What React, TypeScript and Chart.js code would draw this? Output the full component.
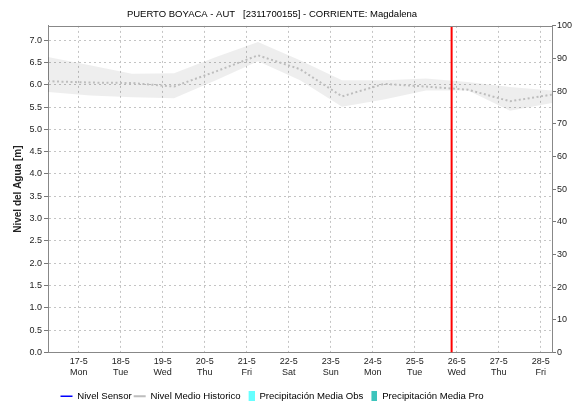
import React, { useEffect, useRef } from 'react';
import { Chart, registerables } from 'chart.js';

Chart.register(...registerables);

const chartTitle = 'PUERTO BOYACA - AUT   [2311700155] - CORRIENTE: Magdalena';
const levelAxisTitle = 'Nivel del Agua [m]';

const dayLabels = ['17-5', '18-5', '19-5', '20-5', '21-5', '22-5', '23-5', '24-5', '25-5', '26-5', '27-5', '28-5'];
const weekdayLabels = ['Mon', 'Tue', 'Wed', 'Thu', 'Fri', 'Sat', 'Sun', 'Mon', 'Tue', 'Wed', 'Thu', 'Fri'];

// sample times, in days from 17-5 00:00
const sampleDays = [-0.73, 0.27, 1.27, 2.27, 3.27, 4.27, 5.27, 6.27, 7.27, 8.27, 9.27, 10.27, 11.27];
const historicMean = [6.08, 6.05, 6.04, 5.96, 6.3, 6.66, 6.35, 5.74, 6.02, 5.96, 5.89, 5.63, 5.78];
const historicUpper = [6.62, 6.44, 6.25, 6.26, 6.62, 6.96, 6.55, 6.1, 6.1, 6.14, 6.06, 5.95, 5.87];
const historicLower = [5.84, 5.76, 5.72, 5.7, 6.1, 6.53, 6.1, 5.51, 5.67, 5.87, 5.87, 5.42, 5.59];

const sensorLevel: { x: number; y: number }[] = [];
const precipObs: { x: number; y: number }[] = [];
const precipPro: { x: number; y: number }[] = [];

const currentDay = 8.88;
const dayMin = -0.73;
const dayMax = 11.27;
const levelMax = 7.32;
const precipMax = 100;

const FONT = "'Liberation Sans', Arial, sans-serif";

export default function App() {
  const ref = useRef<HTMLCanvasElement>(null);

  useEffect(() => {
    document.body.style.margin = '0';
    if (!ref.current) return;

    const makeSwatch = (color: string) => {
      const c = document.createElement('canvas');
      c.width = 12;
      c.height = 10;
      const g = c.getContext('2d')!;
      g.fillStyle = color;
      g.fillRect(6, 0, 6, 10);
      return c;
    };

    const toPts = (ys: number[]) => sampleDays.map((x, i) => ({ x, y: ys[i] }));

    const layoutPlugin = {
      id: 'layoutTweaks',
      afterLayout(chart: any) {
        const t = chart.titleBlock;
        if (t) {
          t.left -= 17;
          t.right -= 17;
        }
        const l = chart.legend;
        if (l) {
          l.left -= 17;
          l.right -= 17;
          l.top += 8;
          l.bottom += 8;
        }
      },
      afterDatasetsDraw(chart: any) {
        const { ctx, chartArea: a } = chart;
        ctx.save();
        ctx.strokeStyle = '#888';
        ctx.lineWidth = 1;
        ctx.beginPath();
        ctx.moveTo(a.left, Math.round(a.top) + 0.5);
        ctx.lineTo(a.right, Math.round(a.top) + 0.5);
        ctx.stroke();
        ctx.restore();
      },
    };

    const chart = new Chart(ref.current, {
      type: 'line',
      data: {
        datasets: [
          {
            label: 'Nivel Sensor',
            data: sensorLevel,
            borderColor: '#0000ff',
            backgroundColor: '#0000ff',
            borderWidth: 1.5,
            pointRadius: 0,
            pointStyle: 'line',
            yAxisID: 'y',
          },
          {
            label: 'Nivel Medio Historico',
            data: toPts(historicMean),
            borderColor: '#bdbdbd',
            backgroundColor: '#bdbdbd',
            borderWidth: 2,
            borderDash: [2, 2.5],
            pointRadius: 0,
            pointStyle: 'line',
            tension: 0,
            fill: false,
            yAxisID: 'y',
          },
          {
            type: 'bar',
            label: 'Precipitación Media Obs',
            data: precipObs,
            backgroundColor: '#66ffff',
            pointStyle: makeSwatch('#66ffff'),
            yAxisID: 'y1',
          } as any,
          {
            type: 'bar',
            label: 'Precipitación Media Pro',
            data: precipPro,
            backgroundColor: '#3cc4bc',
            pointStyle: makeSwatch('#3cc4bc'),
            yAxisID: 'y1',
          } as any,
          {
            label: 'upper',
            data: toPts(historicUpper),
            borderWidth: 0,
            borderColor: 'rgba(0,0,0,0)',
            backgroundColor: 'rgba(0,0,0,0.065)',
            pointRadius: 0,
            fill: '+1',
            tension: 0,
            yAxisID: 'y',
            hideInLegend: true,
          } as any,
          {
            label: 'lower',
            data: toPts(historicLower),
            borderWidth: 0,
            borderColor: 'rgba(0,0,0,0)',
            pointRadius: 0,
            fill: false,
            tension: 0,
            yAxisID: 'y',
            hideInLegend: true,
          } as any,
          {
            label: 'now',
            data: [
              { x: currentDay, y: 0 },
              { x: currentDay, y: precipMax },
            ],
            borderColor: '#ff0000',
            borderWidth: 2,
            pointRadius: 0,
            yAxisID: 'y1',
            order: -1,
            hideInLegend: true,
          } as any,
        ],
      },
      options: {
        responsive: false,
        animation: false,
        events: [],
        layout: { padding: 0 },
        font: { family: FONT },
        plugins: {
          title: {
            display: true,
            text: chartTitle,
            color: '#000',
            font: { family: FONT, size: 9.5, weight: 'normal' },
            padding: { top: 8.5, bottom: 6 },
          },
          legend: {
            position: 'bottom',
            labels: {
              color: '#000',
              font: { family: FONT, size: 9.6 },
              usePointStyle: true,
              pointStyleWidth: 12,
              padding: 2,
              filter: (item: any, data: any) => !data.datasets[item.datasetIndex].hideInLegend,
            },
          },
          tooltip: { enabled: false },
        },
        scales: {
          x: {
            type: 'linear',
            min: dayMin,
            max: dayMax,
            offset: false,
            afterBuildTicks: (s: any) => {
              s.ticks = dayLabels.map((_, i) => ({ value: i }));
            },
            afterFit: (s: any) => {
              s.height = 29;
            },
            ticks: {
              autoSkip: false,
              maxRotation: 0,
              padding: 4,
              color: '#222',
              font: { family: FONT, size: 9 },
              callback: (v: any) => {
                const i = Math.round(Number(v));
                return [dayLabels[i], weekdayLabels[i]];
              },
            },
            grid: { color: '#c4c4c4', drawTicks: false, lineWidth: 1, offset: false },
            border: { color: '#888', dash: [2, 3] },
          },
          y: {
            type: 'linear',
            position: 'left',
            min: 0,
            max: levelMax,
            afterFit: (s: any) => {
              s.width = 48;
            },
            ticks: {
              stepSize: 0.5,
              includeBounds: false,
              padding: 2,
              color: '#222',
              font: { family: FONT, size: 9 },
              callback: (v: any) => Number(v).toFixed(1),
            },
            grid: { color: '#c4c4c4', tickLength: 4, tickColor: '#777', lineWidth: 1 },
            border: { color: '#888', dash: [2, 3] },
            title: {
              display: true,
              text: levelAxisTitle,
              color: '#222',
              font: { family: FONT, size: 10, weight: 'bold' },
              padding: { top: 12, bottom: 0 },
            },
          },
          y1: {
            type: 'linear',
            position: 'right',
            min: 0,
            max: precipMax,
            afterFit: (s: any) => {
              s.width = 26;
            },
            ticks: {
              stepSize: 10,
              padding: 1,
              color: '#222',
              font: { family: FONT, size: 9 },
            },
            grid: { drawOnChartArea: false, tickLength: 4, tickColor: '#777', color: '#777' },
            border: { color: '#888' },
          },
        },
      } as any,
      plugins: [layoutPlugin],
    });

    return () => chart.destroy();
  }, []);

  return (
    <div style={{ width: 578, height: 403 }}>
      <canvas ref={ref} width={578} height={403} style={{ display: 'block' }} />
    </div>
  );
}
